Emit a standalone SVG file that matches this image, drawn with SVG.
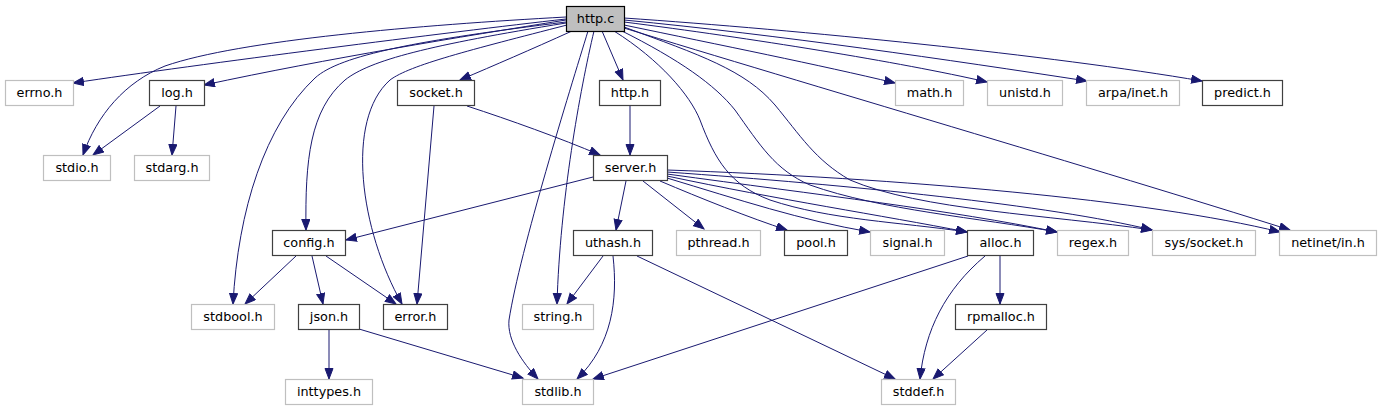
<svg xmlns="http://www.w3.org/2000/svg" width="1381" height="411" viewBox="0 0 1381 411">
<defs>
<marker id="a" markerUnits="userSpaceOnUse" markerWidth="13" markerHeight="10" refX="11" refY="4.5" orient="auto"><path d="M0.5,0.5 L11,4.5 L0.5,8.5 z" fill="#191970" stroke="#191970" stroke-width="1"/></marker>
<style>
rect{stroke-width:1.2}
.n rect{fill:#fff;stroke:#404040}
.s rect{fill:#fff;stroke:#bfbfbf}
.r rect{fill:#bfbfbf;stroke:#000}
text{font-family:"DejaVu Sans",Verdana,sans-serif;font-size:12.8px;text-anchor:middle;fill:#000}
#edges path{fill:none;stroke:#191970;stroke-width:1;marker-end:url(#a)}
</style>
</defs>
<rect width="1381" height="411" fill="#fff"/>
<g id="edges">
<path d="M566,19 C450,32 200,64 73,83"/>
<path d="M566,17 C420,25 240,40 165,66 C125,82 97,115 83,155"/>
<path d="M566,20 C460,37 330,58 204,85"/>
<path d="M566,22 C420,40 340,55 315,78 C265,125 238,210 233,304"/>
<path d="M566,23 C430,45 370,60 345,80 C310,110 305,160 306,230"/>
<path d="M567,25 C470,50 410,65 390,80 C345,120 360,230 402,304"/>
<path d="M572,31 C530,50 495,65 460,80"/>
<path d="M588,31 C570,90 520,250 509,320 C507,340 522,362 538,379"/>
<path d="M594,31 C580,90 560,200 557,304"/>
<path d="M602,31 L623,80"/>
<path d="M614,31 C660,60 690,95 700,120 C715,160 730,185 770,200 C830,220 900,222 967,232"/>
<path d="M620,30 C680,60 715,85 735,110 C760,145 775,170 810,185 C880,210 980,218 1057,232"/>
<path d="M624,27 C700,55 745,70 775,105 C800,135 815,160 850,180 C920,210 1050,215 1152,230"/>
<path d="M624,25 C720,45 820,65 895,83"/>
<path d="M624,22 C750,38 900,62 987,82"/>
<path d="M624,20 C780,35 950,60 1087,81"/>
<path d="M624,18 C800,30 1050,55 1202,81"/>
<path d="M624,28 C800,82 1100,170 1290,230"/>
<path d="M160,106 L93,155"/>
<path d="M176,106 L172,155"/>
<path d="M467,106 C510,120 560,138 600,155"/>
<path d="M434,106 L417,304"/>
<path d="M630,106 L630,155"/>
<path d="M593,177 L346,240"/>
<path d="M626,181 L616,230"/>
<path d="M643,181 L704,229"/>
<path d="M660,181 C700,198 750,218 787,230"/>
<path d="M667,178 C740,200 800,220 870,232"/>
<path d="M667,176 C780,200 880,215 967,232"/>
<path d="M667,174 C820,195 950,210 1057,232"/>
<path d="M667,172 C850,185 1050,205 1152,230"/>
<path d="M667,170 C900,178 1150,200 1280,232"/>
<path d="M296,256 L245,304"/>
<path d="M312,256 L323,304"/>
<path d="M326,256 L396,304"/>
<path d="M329,330 L329,379"/>
<path d="M359,329 L523,378"/>
<path d="M603,256 L567,304"/>
<path d="M613,256 C618,300 612,345 577,379"/>
<path d="M637,256 L895,379"/>
<path d="M968,256 L593,379"/>
<path d="M985,256 C945,290 925,330 920,379"/>
<path d="M1000,256 L1000,304"/>
<path d="M987,330 L933,379"/>
</g>
<g id="http_c" class="r"><rect x="566.5" y="6.5" width="58" height="25"/><text x="595.5" y="22.5">http.c</text></g>
<g id="errno_h" class="s"><rect x="5.5" y="80.5" width="68" height="25"/><text x="39.5" y="97">errno.h</text></g>
<g id="log_h" class="n"><rect x="149.5" y="80.5" width="55" height="25"/><text x="177" y="97">log.h</text></g>
<g id="socket_h" class="n"><rect x="397.5" y="80.5" width="77" height="25"/><text x="436" y="97">socket.h</text></g>
<g id="http_h" class="n"><rect x="599.5" y="80.5" width="61" height="25"/><text x="630" y="97">http.h</text></g>
<g id="math_h" class="s"><rect x="895.5" y="80.5" width="68" height="25"/><text x="929.5" y="97">math.h</text></g>
<g id="unistd_h" class="s"><rect x="987.5" y="80.5" width="75" height="25"/><text x="1025" y="97">unistd.h</text></g>
<g id="arpa_inet_h" class="s"><rect x="1086.5" y="80.5" width="93" height="25"/><text x="1133" y="97">arpa/inet.h</text></g>
<g id="predict_h" class="n"><rect x="1202.5" y="80.5" width="80" height="25"/><text x="1242.5" y="97">predict.h</text></g>
<g id="stdio_h" class="s"><rect x="43.5" y="155.5" width="67" height="25"/><text x="77" y="172">stdio.h</text></g>
<g id="stdarg_h" class="s"><rect x="134.5" y="155.5" width="75" height="25"/><text x="172" y="172">stdarg.h</text></g>
<g id="server_h" class="n"><rect x="593.5" y="155.5" width="74" height="25"/><text x="630.5" y="172">server.h</text></g>
<g id="config_h" class="n"><rect x="272.5" y="230.5" width="73" height="25"/><text x="309" y="247">config.h</text></g>
<g id="uthash_h" class="n"><rect x="573.5" y="230.5" width="79" height="25"/><text x="613" y="247">uthash.h</text></g>
<g id="pthread_h" class="s"><rect x="676.5" y="230.5" width="84" height="25"/><text x="718.5" y="247">pthread.h</text></g>
<g id="pool_h" class="n"><rect x="784.5" y="230.5" width="63" height="25"/><text x="816" y="247">pool.h</text></g>
<g id="signal_h" class="s"><rect x="870.5" y="230.5" width="74" height="25"/><text x="907.5" y="247">signal.h</text></g>
<g id="alloc_h" class="n"><rect x="967.5" y="230.5" width="66" height="25"/><text x="1000.5" y="247">alloc.h</text></g>
<g id="regex_h" class="s"><rect x="1057.5" y="230.5" width="71" height="25"/><text x="1093" y="247">regex.h</text></g>
<g id="sys_socket_h" class="s"><rect x="1152.5" y="230.5" width="103" height="25"/><text x="1204" y="247">sys/socket.h</text></g>
<g id="netinet_in_h" class="s"><rect x="1279.5" y="230.5" width="97" height="25"/><text x="1328" y="247">netinet/in.h</text></g>
<g id="stdbool_h" class="s"><rect x="191.5" y="304.5" width="83" height="25"/><text x="233" y="321">stdbool.h</text></g>
<g id="json_h" class="n"><rect x="298.5" y="304.5" width="61" height="25"/><text x="329" y="321">json.h</text></g>
<g id="error_h" class="n"><rect x="383.5" y="304.5" width="64" height="25"/><text x="415.5" y="321">error.h</text></g>
<g id="string_h" class="s"><rect x="522.5" y="304.5" width="71" height="25"/><text x="558" y="321">string.h</text></g>
<g id="rpmalloc_h" class="n"><rect x="955.5" y="304.5" width="91" height="25"/><text x="1001" y="321">rpmalloc.h</text></g>
<g id="inttypes_h" class="s"><rect x="285.5" y="379.5" width="87" height="25"/><text x="329" y="396">inttypes.h</text></g>
<g id="stdlib_h" class="s"><rect x="522.5" y="379.5" width="71" height="25"/><text x="558" y="396">stdlib.h</text></g>
<g id="stddef_h" class="s"><rect x="881.5" y="379.5" width="74" height="25"/><text x="918.5" y="396">stddef.h</text></g>
</svg>
